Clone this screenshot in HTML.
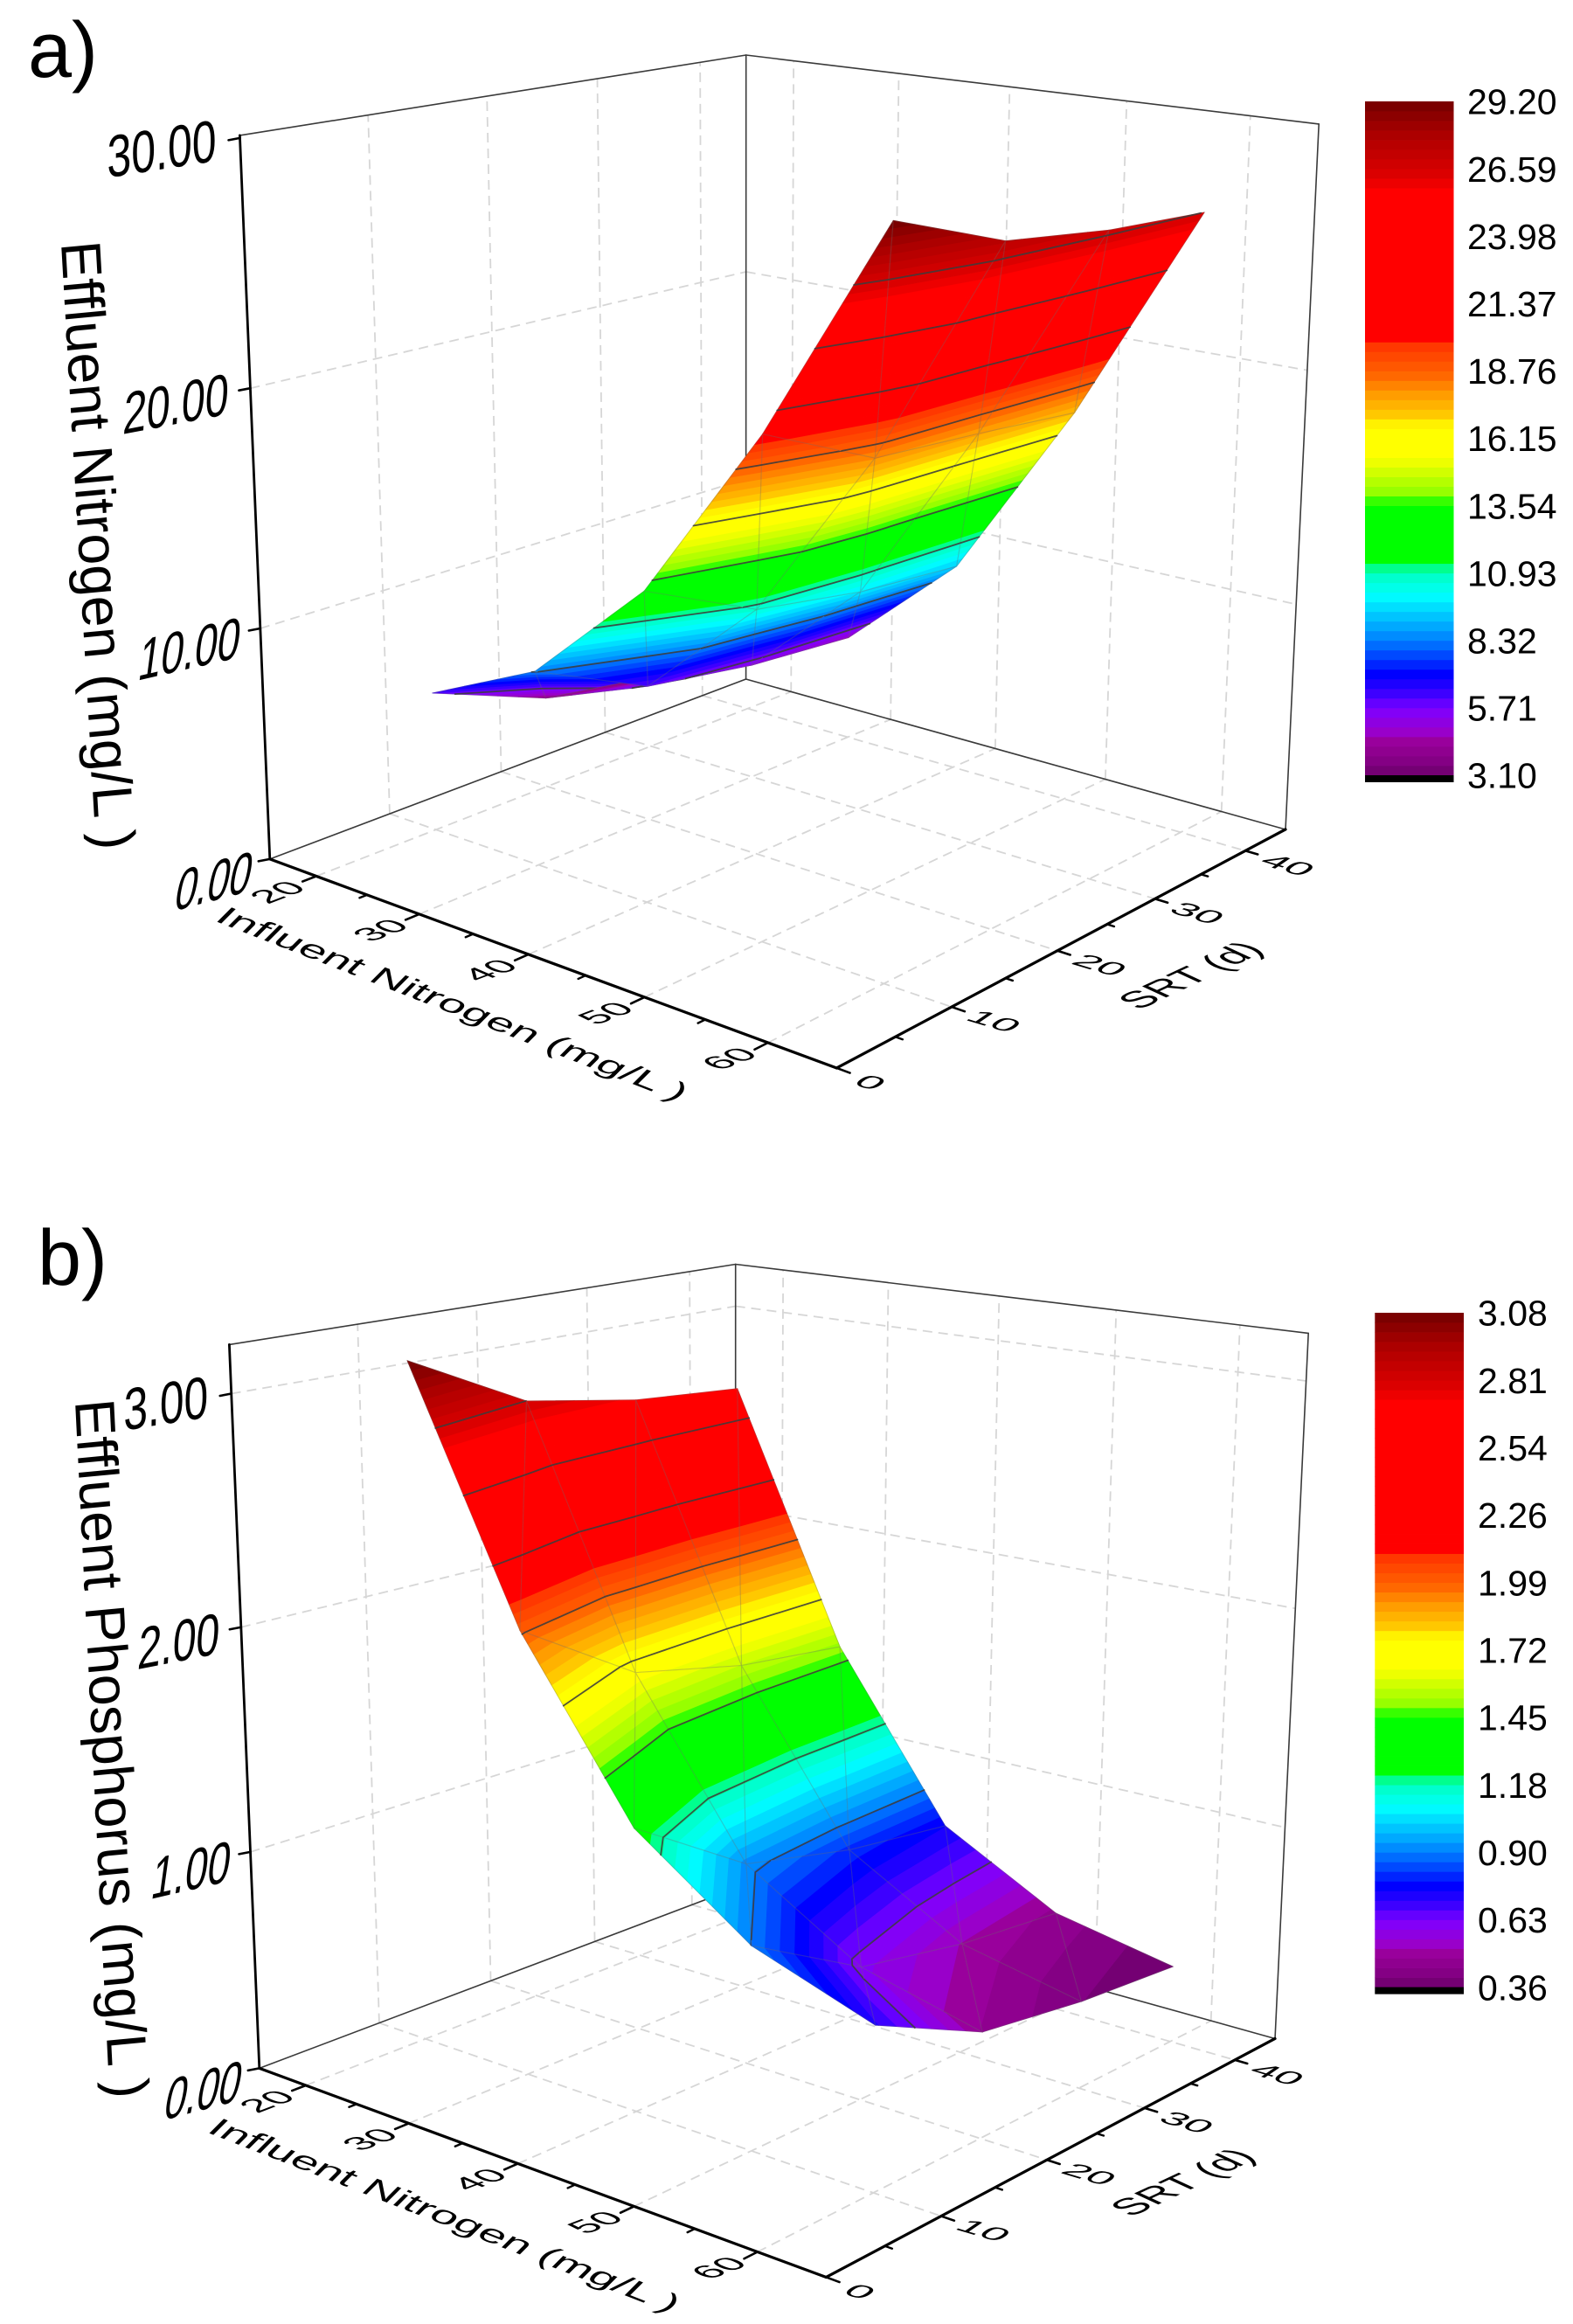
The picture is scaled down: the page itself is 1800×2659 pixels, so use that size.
<!DOCTYPE html>
<html lang="en">
<head>
<meta charset="utf-8">
<title>Effluent nitrogen and phosphorus surfaces</title>
<style>
html,body{margin:0;padding:0;background:#fff}
svg{display:block}
text{font-family:"Liberation Sans",Arial,sans-serif;fill:#000}
</style>
</head>
<body>
<svg id="figure" xmlns="http://www.w3.org/2000/svg" width="1800" height="2659" viewBox="0 0 1800 2659">
  <rect width="1800" height="2659" fill="#fff"/>
  <g id="panel-a">
    <text x="32" y="88" font-size="90">a)</text>
    <text font-size="100" transform="matrix(.037 .642 -.64 .06 70 278)" xml:space="preserve">Effluent Nitrogen (mg/L )</text>
    <text font-size="100" transform="matrix(.495 .193 -.24 .24 244 1053)" xml:space="preserve">Influent Nitrogen (mg/L )</text>
    <text font-size="100" transform="matrix(.42 -.196 .40 .185 1303 1156)">SRT (d)</text>
  </g>
  <g id="panel-b">
    <text x="43" y="1470" font-size="90">b)</text>
    <text font-size="100" transform="matrix(.032 .645 -.64 .06 86 1603)" xml:space="preserve">Effluent Phosphorus (mg/L )</text>
    <text font-size="100" transform="matrix(.495 .193 -.24 .24 235 2439)" xml:space="preserve">Influent Nitrogen (mg/L )</text>
    <text font-size="100" transform="matrix(.42 -.196 .40 .185 1294 2537)">SRT (d)</text>
  </g>
</svg>
<script>
// ---- data ----
const influentValues = [20, 30, 40, 50, 60];
const srtValues = [10, 20, 30, 40];
const nitrogenValues = [
  [6.10, 4.09, 3.30, 3.10],
  [8.39, 5.99, 5.20, 4.79],
  [13.02, 10.64, 9.79, 9.36],
  [20.35, 18.06, 17.72, 17.30],
  [29.15, 27.42, 26.84, 26.58]
];
const phosphorusValues = [
  [3.081, 2.809, 2.716, 2.673],
  [2.004, 1.674, 1.561, 1.508],
  [1.265, 0.926, 0.811, 0.750],
  [0.898, 0.605, 0.512, 0.464],
  [0.717, 0.474, 0.400, 0.358]
];
const influentTicks = [20, 30, 40, 50, 60];
const influentMinorTicks = [25, 35, 45, 55];
const srtTicks = [0, 10, 20, 30, 40];
const srtMinorTicks = [5, 15, 25, 35];
const nitrogenTicks = [0, 10, 20, 30];
const nitrogenTickLabels = ['0.00', '10.00', '20.00', '30.00'];
const phosphorusTicks = [0, 1, 2, 3];
const phosphorusTickLabels = ['0.00', '1.00', '2.00', '3.00'];
const nitrogenLegendLabels = ['29.20', '26.59', '23.98', '21.37', '18.76', '16.15', '13.54', '10.93', '8.32', '5.71', '3.10'];
const phosphorusLegendLabels = ['3.08', '2.81', '2.54', '2.26', '1.99', '1.72', '1.45', '1.18', '0.90', '0.63', '0.36'];
// colour map: fraction of the value range, and the colour there
const colorStopFractions = [0, .016, .049, .065, .098, .125, .15, .19, .213, .24, .267, .294, .31, .315, .405, .41, .473, .517, .533, .567, .594, .64, .643, .866, .89, .955, 1];
const colorStopValues = ['#6a0068', '#800080', '#990099', '#9900cc', '#7f00ff', '#3300ff', '#0000ff', '#0066ff', '#0099ff', '#00ccff', '#00ffff', '#00ffcc', '#00ff80', '#00ff00', '#00ff00', '#80ff00', '#ffff00', '#ffff00', '#ffcc00', '#ff9900', '#ff6600', '#ff3300', '#ff0000', '#ff0000', '#dd0000', '#a80000', '#730000'];

// ---- axes ----
const X_MIN = 15.3, X_SPAN = 50, SRT_MAX = 44.7, BANDS_PER_STEP = 7;
const SVG_NS = 'http://www.w3.org/2000/svg';

function project(chart, x, srt, z) {
  const u = (x - X_MIN) / X_SPAN, v = srt / SRT_MAX, w = z / chart.zMax;
  const d = 1 - .1404 * u + .1673 * v - .0596 * w;
  return [
    (308.8 + 514.2 * u + 687.6 * v - 50.75 * w) / d + chart.dx,
    (982.9 + 67.5 * u - 75.9 * v - 837.2 * w) / d + chart.dy
  ];
}
function hexToRgb(h) {
  return [parseInt(h.slice(1, 3), 16), parseInt(h.slice(3, 5), 16), parseInt(h.slice(5, 7), 16)];
}
function colorAt(t) {
  let i = 0;
  while (i < colorStopFractions.length - 2 && t > colorStopFractions[i + 1]) i++;
  const f = Math.max(0, Math.min(1, (t - colorStopFractions[i]) / (colorStopFractions[i + 1] - colorStopFractions[i])));
  const a = hexToRgb(colorStopValues[i]), b = hexToRgb(colorStopValues[i + 1]);
  return 'rgb(' + a.map((c, k) => Math.round(c + (b[k] - c) * f)).join(',') + ')';
}
function make(parent, tag, attrs) {
  const el = document.createElementNS(SVG_NS, tag);
  for (const k in attrs) el.setAttribute(k, attrs[k]);
  parent.appendChild(el);
  return el;
}
function segment(parent, p, q, stroke, width, dash) {
  const attrs = {x1: p[0].toFixed(2), y1: p[1].toFixed(2), x2: q[0].toFixed(2), y2: q[1].toFixed(2), stroke: stroke, 'stroke-width': width, 'stroke-linecap': 'round'};
  if (dash) { attrs['stroke-dasharray'] = dash; attrs['stroke-linecap'] = 'butt'; }
  return make(parent, 'line', attrs);
}
function clipZ(poly, level, keepAbove) {
  const out = [];
  for (let i = 0; i < poly.length; i++) {
    const a = poly[i], b = poly[(i + 1) % poly.length];
    const ia = keepAbove ? a.z >= level : a.z <= level;
    const ib = keepAbove ? b.z >= level : b.z <= level;
    if (ia) out.push(a);
    if (ia !== ib) {
      const f = (level - a.z) / (b.z - a.z);
      out.push({x: a.x + (b.x - a.x) * f, srt: a.srt + (b.srt - a.srt) * f, z: level});
    }
  }
  return out;
}
function pointsOf(chart, poly) {
  return poly.map(p => project(chart, p.x, p.srt, p.z).map(n => n.toFixed(2)).join(',')).join(' ');
}

function drawGrid(g, c) {
  const xEnd = X_MIN + X_SPAN, GRID = '#d6d6d6', DASH = '11 7';
  influentTicks.forEach(x => {
    const floor = segment(g, project(c, x, 0, 0), project(c, x, SRT_MAX, 0), GRID, 1.8, DASH);
    
    
    const wall = segment(g, project(c, x, SRT_MAX, 0), project(c, x, SRT_MAX, c.zMax), GRID, 1.8, DASH);
    
    
  });
  srtTicks.slice(1).forEach(s => {
    const floor = segment(g, project(c, X_MIN, s, 0), project(c, xEnd, s, 0), GRID, 1.8, DASH);
    
    
    const wall = segment(g, project(c, X_MIN, s, 0), project(c, X_MIN, s, c.zMax), GRID, 1.8, DASH);
    
    
  });
  c.zTicks.slice(1).forEach(z => {
    if (z >= c.zMax * .995) return;
    const left = segment(g, project(c, X_MIN, 0, z), project(c, X_MIN, SRT_MAX, z), GRID, 1.8, DASH);
    
    
    const right = segment(g, project(c, X_MIN, SRT_MAX, z), project(c, xEnd, SRT_MAX, z), GRID, 1.8, DASH);
    
    
  });
}

function drawFrame(g, c) {
  const xEnd = X_MIN + X_SPAN, Z = c.zMax;
  const thin = [
    [[X_MIN, 0, Z], [X_MIN, SRT_MAX, Z]],
    [[X_MIN, SRT_MAX, Z], [xEnd, SRT_MAX, Z]],
    [[X_MIN, SRT_MAX, 0], [X_MIN, SRT_MAX, Z]],
    [[xEnd, SRT_MAX, 0], [xEnd, SRT_MAX, Z]],
    [[X_MIN, 0, 0], [X_MIN, SRT_MAX, 0]],
    [[X_MIN, SRT_MAX, 0], [xEnd, SRT_MAX, 0]]
  ];
  thin.forEach(e => {
    const l = segment(g, project(c, ...e[0]), project(c, ...e[1]), '#3a3a3a', 1.6);
    
    
  });
  const zAxis = segment(g, project(c, X_MIN, 0, 0), project(c, X_MIN, 0, Z), '#000', 2.8);
  
  
  const xAxis = segment(g, project(c, X_MIN, 0, 0), project(c, xEnd, 0, 0), '#000', 3.2);
  
  
  const sAxis = segment(g, project(c, xEnd, 0, 0), project(c, xEnd, SRT_MAX, 0), '#000', 3.2);
  
  
}

function drawTicks(g, c) {
  const xEnd = X_MIN + X_SPAN;
  c.zTicks.forEach((z, i) => {
    const p = project(c, X_MIN, 0, z), w = z / c.zMax;
    const t = segment(g, p, [p[0] - 13, p[1] + 2.5], '#000', 2.6);
    
    
    const emx = 44.5 + 5.5 * w, emy = 68, rise = .265 - .11 * w, lean = .20 - .20 * w;
    const ex = p[0] - 25 - 2 * w, ey = p[1] + 37 - 11 * w;
    const label = make(g, 'text', {'font-size': 100, 'text-anchor': 'end',
      transform: 'matrix(' + [emx / 100, -rise * emx / 100, -lean * emy / 100, emy / 100, ex, ey].map(n => n.toFixed(4)).join(' ') + ')'});
    label.textContent = c.zLabels[i];
    
    
  });
  influentTicks.forEach(x => {
    const p = project(c, x, 0, 0);
    const t = segment(g, p, project(c, x, -1.1, 0), '#000', 2.6);
    
    
    const label = make(g, 'text', {'font-size': 100, 'text-anchor': 'middle', x: 0, y: 36,
      transform: 'matrix(.42 -.16 .35 .15 ' + (p[0] - 45).toFixed(2) + ' ' + (p[1] + 18).toFixed(2) + ')'});
    label.textContent = String(x);
    
    
  });
  influentMinorTicks.forEach(x => {
    const t = segment(g, project(c, x, 0, 0), project(c, x, -.6, 0), '#000', 2.4);
    
    
  });
  srtTicks.forEach(s => {
    const p = project(c, xEnd, s, 0);
    const t = segment(g, p, project(c, xEnd + 1, s, 0), '#000', 2.6);
    
    
    const dx = s === 0 ? 39 : 49;
    const label = make(g, 'text', {'font-size': 100, 'text-anchor': 'middle', x: 0, y: 36,
      transform: 'matrix(.47 .14 -.25 .17 ' + (p[0] + dx).toFixed(2) + ' ' + (p[1] + 16).toFixed(2) + ')'});
    label.textContent = String(s);
    
    
  });
  srtMinorTicks.forEach(s => {
    const t = segment(g, project(c, xEnd, s, 0), project(c, xEnd + .55, s, 0), '#000', 2.4);
    
    
  });
}

function drawSurface(g, c) {
  const levels = c.legend.map(parseFloat);
  const hiV = levels[0], loV = levels[levels.length - 1];
  const bandCount = (levels.length - 1) * BANDS_PER_STEP;
  const bandH = (hiV - loV) / bandCount;
  const inner = levels.slice(1, -1);
  const vertex = (i, j) => ({x: influentValues[i], srt: srtValues[j], z: c.values[i][j]});
  for (let i = 1; i < influentValues.length; i++) {
    for (let j = 0; j < srtValues.length - 1; j++) {
      const tris = [
        [vertex(i, j), vertex(i - 1, j), vertex(i - 1, j + 1)],
        [vertex(i, j), vertex(i, j + 1), vertex(i - 1, j + 1)]
      ];
      tris.forEach(tri => {
        for (let k = 0; k < bandCount; k++) {
          let poly = tri;
          if (k > 0) poly = clipZ(poly, loV + k * bandH, true);
          if (poly.length && k < bandCount - 1) poly = clipZ(poly, loV + (k + 1) * bandH, false);
          if (poly.length < 3) continue;
          const col = colorAt((k + .5) / bandCount);
          const band = make(g, 'polygon', {points: pointsOf(c, poly), fill: col, stroke: col, 'stroke-width': .7, 'stroke-linejoin': 'round'});
          
          
        }
        const mesh = make(g, 'polygon', {points: pointsOf(c, tri), fill: 'none', stroke: 'rgba(110,110,110,.3)', 'stroke-width': 1.1});
        
        
        inner.forEach(level => {
          const hits = [];
          for (let e = 0; e < 3; e++) {
            const a = tri[e], b = tri[(e + 1) % 3];
            if ((a.z - level) * (b.z - level) < 0) {
              const f = (level - a.z) / (b.z - a.z);
              hits.push(project(c, a.x + (b.x - a.x) * f, a.srt + (b.srt - a.srt) * f, level));
            }
          }
          if (hits.length === 2) {
            const line = segment(g, hits[0], hits[1], 'rgba(60,60,60,.88)', 1.8);
            
            
          }
        });
      });
    }
  }
}

function drawLegend(g, c) {
  const levels = c.legend.map(parseFloat);
  const bandCount = (levels.length - 1) * BANDS_PER_STEP;
  const span = c.barBottom - c.barTop;
  for (let k = 0; k < bandCount; k++) {
    const y0 = c.barBottom - (k + 1) / bandCount * span;
    const r = make(g, 'rect', {x: c.barX, y: y0.toFixed(2), width: c.barW, height: (span / bandCount + .4).toFixed(2), fill: colorAt((k + .5) / bandCount)});
    
    
  }
  const under = make(g, 'rect', {x: c.barX, y: c.barBottom, width: c.barW, height: 8, fill: '#000'});
  
  
  c.legend.forEach((s, i) => {
    const y = c.barTop + i / (c.legend.length - 1) * span;
    const t = make(g, 'text', {x: c.barX + c.labelGap, y: (y + 14.7).toFixed(2), 'font-size': 41});
    t.textContent = s;
    
    
  });
}

const chartA = {zMax: 30.1, dx: 0, dy: 0, zTicks: nitrogenTicks, zLabels: nitrogenTickLabels, values: nitrogenValues, legend: nitrogenLegendLabels, barX: 1562, barW: 101.5, barTop: 116, barBottom: 887, labelGap: 117};
const chartB = {zMax: 3.205, dx: -12, dy: 1383.5, zTicks: phosphorusTicks, zLabels: phosphorusTickLabels, values: phosphorusValues, legend: phosphorusLegendLabels, barX: 1573.3, barW: 101.7, barTop: 1502, barBottom: 2273.6, labelGap: 117.7};

[[chartA, 'panel-a'], [chartB, 'panel-b']].forEach(pair => {
  const g = document.getElementById(pair[1]);
  drawGrid(g, pair[0]);
  drawFrame(g, pair[0]);
  drawTicks(g, pair[0]);
  drawSurface(g, pair[0]);
  drawLegend(g, pair[0]);
});
</script>
</body>
</html>
